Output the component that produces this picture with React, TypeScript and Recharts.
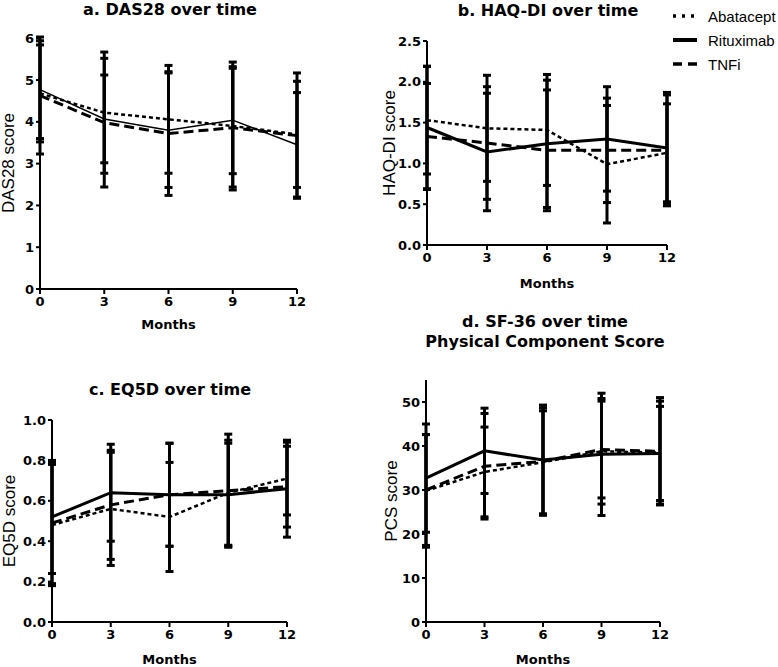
import { LineChart, Line, XAxis, YAxis, ErrorBar } from "recharts";

const months = [0, 3, 6, 9, 12];
const seriesNames = ["Abatacept", "Rituximab", "TNFi"];

// DAS28 means and SD
const dasAba = [4.68, 4.22, 4.06, 3.9, 3.7];
const dasAbaSd = [1.16, 1.45, 1.29, 1.53, 1.27];
const dasRtx = [4.77, 4.07, 3.8, 4.04, 3.45];
const dasRtxSd = [1.17, 1.05, 1.37, 1.28, 1.25];
const dasTnf = [4.63, 3.98, 3.72, 3.86, 3.67];
const dasTnfSd = [1.4, 1.54, 1.48, 1.42, 1.5];

// HAQ-DI
const haqAba = [1.53, 1.43, 1.41, 0.99, 1.13];
const haqAbaSd = [0.66, 0.65, 0.68, 0.72, 0.6];
const haqRtx = [1.44, 1.14, 1.24, 1.3, 1.19];
const haqRtxSd = [0.75, 0.72, 0.78, 0.64, 0.68];
const haqTnf = [1.33, 1.25, 1.16, 1.16, 1.16];
const haqTnfSd = [0.65, 0.69, 0.74, 0.64, 0.68];

// EQ5D
const eqAba = [0.48, 0.56, 0.52, 0.64, 0.71];
const eqAbaSd = [0.3, 0.28, 0.27, 0.26, 0.18];
const eqRtx = [0.52, 0.64, 0.63, 0.63, 0.66];
const eqRtxSd = [0.28, 0.24, 0.255, 0.255, 0.24];
const eqTnf = [0.49, 0.58, 0.63, 0.65, 0.67];
const eqTnfSd = [0.3, 0.27, 0.255, 0.28, 0.2];

// SF-36 PCS
const pcsAba = [29.8, 34.1, 36.3, 38.8, 38.5];
const pcsAbaSd = [12.8, 10.2, 11.7, 12.0, 11.7];
const pcsRtx = [32.7, 38.9, 36.8, 38.1, 38.3];
const pcsRtxSd = [12.3, 9.7, 12.5, 13.9, 10.7];
const pcsTnf = [30.0, 35.4, 36.5, 39.2, 38.8];
const pcsTnfSd = [12.6, 12.0, 12.2, 11.0, 12.2];

const dasTicks = [0, 1, 2, 3, 4, 5, 6];
const haqTicks = [0, 0.5, 1, 1.5, 2, 2.5];
const eqTicks = [0, 0.2, 0.4, 0.6, 0.8, 1.0];
const pcsTicks = [0, 10, 20, 30, 40, 50];

const BOLD = "'DejaVu Sans', sans-serif";
const ARIAL = "'Liberation Sans', Arial, sans-serif";

function rows(aba, abaSd, rtx, rtxSd, tnf, tnfSd) {
  return months.map((m, i) => ({
    month: m,
    aba: aba[i],
    abaSd: abaSd[i],
    rtx: rtx[i],
    rtxSd: rtxSd[i],
    tnf: tnf[i],
    tnfSd: tnfSd[i],
  }));
}

const tickStyle = { fontFamily: BOLD, fontWeight: "bold", fontSize: 13, fill: "#000" };
const axisLine = { stroke: "#000", strokeWidth: 2 };

function Panel({ left, top, width, height, margin, yWidth, data, domain, ticks, fmt, yLabel, yOff, xOff, solidWidth }) {
  const eb = (key) => (
    <ErrorBar dataKey={key} direction="y" width={4} stroke="#000" strokeWidth={3} isAnimationActive={false} />
  );
  return (
    <div style={{ position: "absolute", left, top }}>
      <LineChart width={width} height={height} data={data} margin={margin}>
        <XAxis
          dataKey="month"
          type="number"
          domain={[0, 12]}
          ticks={months}
          tick={tickStyle}
          tickSize={5}
          tickMargin={3}
          axisLine={axisLine}
          tickLine={axisLine}
          height={40}
          label={{ value: "Months", position: "insideBottom", offset: xOff, style: { fontFamily: BOLD, fontWeight: "bold", fontSize: 13, fill: "#000" } }}
        />
        <YAxis
          type="number"
          domain={domain}
          ticks={ticks}
          tickFormatter={fmt}
          tick={tickStyle}
          tickSize={4}
          tickMargin={2}
          axisLine={axisLine}
          tickLine={axisLine}
          width={yWidth}
          interval={0}
          label={{ value: yLabel, angle: -90, position: "insideLeft", offset: yOff, style: { textAnchor: "middle", fontFamily: ARIAL, fontSize: 17, fill: "#000" } }}
        />
        <Line dataKey="aba" stroke="#000" strokeWidth={2.5} strokeDasharray="4 3" dot={false} isAnimationActive={false}>
          {eb("abaSd")}
        </Line>
        <Line dataKey="rtx" stroke="#000" strokeWidth={solidWidth} dot={false} isAnimationActive={false}>
          {eb("rtxSd")}
        </Line>
        <Line dataKey="tnf" stroke="#000" strokeWidth={3} strokeDasharray="10 5" dot={false} isAnimationActive={false}>
          {eb("tnfSd")}
        </Line>
      </LineChart>
    </div>
  );
}

function Title({ cx, cy, lines }) {
  return (
    <div
      style={{
        position: "absolute",
        left: cx - 160,
        top: cy - 10,
        width: 320,
        textAlign: "center",
        fontFamily: BOLD,
        fontWeight: "bold",
        fontSize: 16,
        lineHeight: "20px",
        color: "#000",
      }}
    >
      {lines.map((l) => (
        <div key={l}>{l}</div>
      ))}
    </div>
  );
}

function LegendBox() {
  const ys = [16, 40, 64];
  const dashes = ["3 6", undefined, "9 6"];
  return (
    <svg style={{ position: "absolute", left: 660, top: 0 }} width={118} height={80}>
      {seriesNames.map((name, i) => (
        <g key={name}>
          <line x1={13} x2={37} y1={ys[i]} y2={ys[i]} stroke="#000" strokeWidth={i === 1 ? 4 : 3.5} strokeDasharray={dashes[i]} />
          <text x={48} y={ys[i]} dominantBaseline="central" fontFamily={ARIAL} fontSize={15} fill="#000">
            {name}
          </text>
        </g>
      ))}
    </svg>
  );
}

const f1 = (v) => v.toFixed(1);
const f0 = (v) => String(v);

export default function App() {
  return (
    <div style={{ position: "absolute", left: 0, top: 0, width: 778, height: 667, background: "#fff", overflow: "hidden" }}>
      <Title cx={170} cy={10} lines={["a. DAS28 over time"]} />
      <Title cx={548} cy={11} lines={["b. HAQ-DI over time"]} />
      <Title cx={170} cy={390} lines={["c. EQ5D over time"]} />
      <Title cx={545} cy={322} lines={["d. SF-36 over time", "Physical Component Score"]} />
      <LegendBox />
      <Panel
        left={0}
        top={0}
        width={320}
        height={335}
        margin={{ top: 37, right: 23, left: 0, bottom: 6 }}
        yWidth={40}
        data={rows(dasAba, dasAbaSd, dasRtx, dasRtxSd, dasTnf, dasTnfSd)}
        domain={[0, 6]}
        ticks={dasTicks}
        fmt={f0}
        yLabel="DAS28 score"
        yOff={8}
        xOff={0}
        solidWidth={1.5}
      />
      <Panel
        left={372}
        top={0}
        width={313}
        height={290}
        margin={{ top: 41, right: 18, left: 0, bottom: 5 }}
        yWidth={55}
        data={rows(haqAba, haqAbaSd, haqRtx, haqRtxSd, haqTnf, haqTnfSd)}
        domain={[0, 2.5]}
        ticks={haqTicks}
        fmt={f1}
        yLabel="HAQ-DI score"
        yOff={17}
        xOff={-3}
        solidWidth={3}
      />
      <Panel
        left={0}
        top={380}
        width={312}
        height={287}
        margin={{ top: 40, right: 25, left: 0, bottom: 5 }}
        yWidth={52}
        data={rows(eqAba, eqAbaSd, eqRtx, eqRtxSd, eqTnf, eqTnfSd)}
        domain={[0, 1]}
        ticks={eqTicks}
        fmt={f1}
        yLabel="EQ5D score"
        yOff={9}
        xOff={-2}
        solidWidth={3}
      />
      <Panel
        left={372}
        top={340}
        width={313}
        height={327}
        margin={{ top: 40, right: 25, left: 0, bottom: 5 }}
        yWidth={54}
        data={rows(pcsAba, pcsAbaSd, pcsRtx, pcsRtxSd, pcsTnf, pcsTnfSd)}
        domain={[0, 55]}
        ticks={pcsTicks}
        fmt={f0}
        yLabel="PCS score"
        yOff={19}
        xOff={-2}
        solidWidth={3}
      />
    </div>
  );
}
